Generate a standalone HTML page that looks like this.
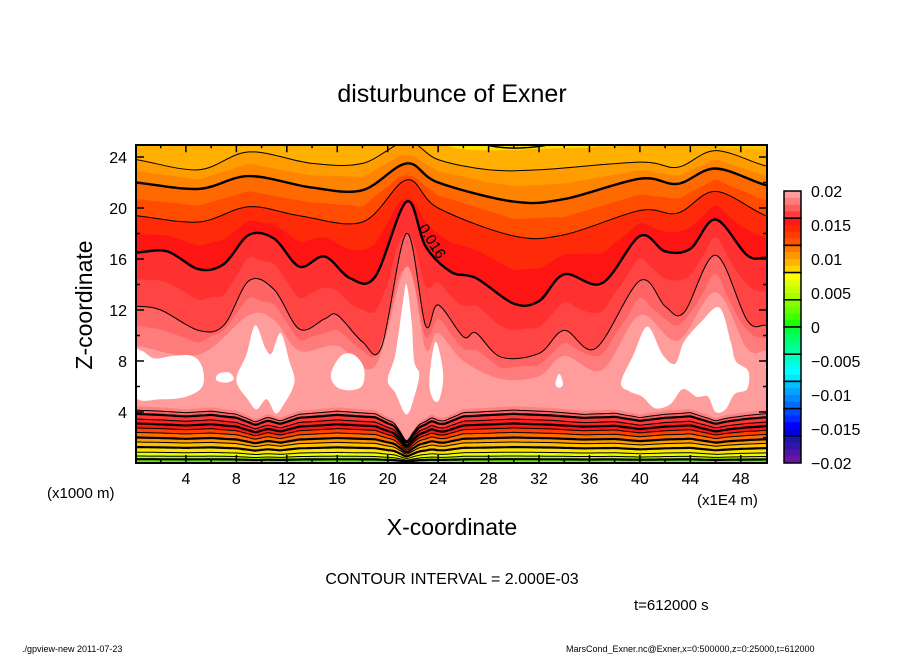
<!DOCTYPE html>
<html><head><meta charset="utf-8"><style>
body{margin:0;background:#fff;}
svg{display:block;font-family:"Liberation Sans",sans-serif;}
</style></head><body>
<svg id="chart" width="904" height="654" viewBox="0 0 904 654" xmlns="http://www.w3.org/2000/svg">
<defs><clipPath id="pc"><rect x="136" y="145" width="631" height="318"/></clipPath></defs>
<text x="452" y="102" text-anchor="middle" font-size="25" fill="#000">disturbunce of Exner</text>
<g id="plot" clip-path="url(#pc)"></g>
<g id="lines" clip-path="url(#pc)"></g>
<rect x="136" y="145" width="631" height="318" fill="none" stroke="#000" stroke-width="2"/>
<g id="axes"></g>
<text x="0" y="0" font-size="15" transform="translate(418,228) rotate(58)">0.016</text>
<g id="cbar"></g>
<text x="47" y="498" font-size="15">(x1000 m)</text>
<text x="697" y="505" font-size="15">(x1E4 m)</text>
<text x="452" y="535" text-anchor="middle" font-size="23">X-coordinate</text>
<text x="0" y="0" text-anchor="middle" font-size="23" transform="translate(92,305) rotate(-90)">Z-coordinate</text>
<text x="452" y="584" text-anchor="middle" font-size="16">CONTOUR INTERVAL = 2.000E-03</text>
<text x="634" y="610" font-size="15">t=612000 s</text>
<text x="22" y="652" font-size="9">./gpview-new  2011-07-23</text>
<text x="566" y="652" font-size="9">MarsCond_Exner.nc@Exner,x=0:500000,z=0:25000,t=612000</text>
</svg>
<script>
// contour curves (x in 1E4 m, z in 1000 m)
const lineA = [[0,23.8],[5,23.0],[9,24.4],[14,23.5],[18,23.5],[21.5,25.2],[24,23.8],[28,23.0],[32,23.0],[40,23.6],[43,23.2],[46,24.5],[50,23.3]];
const lineB = [[0,22],[5,21.5],[9,22.5],[14,21.6],[18,21.4],[21.5,23.5],[24,22],[30,20.5],[34,20.7],[40,22.3],[43,21.9],[46,23.1],[50,21.8]];
const lineC = [[0,19.4],[5,18.9],[9,20.1],[13,19.4],[18,18.9],[21.5,22.2],[24,20],[30,17.8],[34,17.9],[40,19.8],[43,19.6],[46,21.3],[50,19.4]];
const lineD = [[0,16.5],[2.5,16.6],[5,15.2],[7,15.6],[9,17.9],[11,17.6],[13,15.4],[15,16.2],[17,14.5],[19,14.6],[21.5,20.5],[23,17],[25,15],[27,14.5],[30,12.5],[32,12.7],[34,14.8],[37,14.1],[40,17.8],[42,16.6],[44,16.8],[46,19.1],[48.5,16.3],[50,16.1]];
const lineE = [[0,12.3],[2,12.0],[5,10.4],[7,10.8],[9,14.3],[11,13.6],[13,10.5],[15,11.3],[16,11.6],[18,9.5],[19.5,9.1],[21.5,18],[23,10.8],[24,12.4],[26,9.9],[27,10.2],[29,8.3],[32,8.6],[34,10.4],[36.5,9.0],[40,14.3],[42,12.3],[43.5,11.8],[46,16.3],[48.5,11.2],[50,10.8]];
const lightTop = [[0,9.2],[5,8.5],[9,11.6],[11,11.2],[13,8.8],[16,9.2],[19,7.6],[21.5,15.4],[23,9.0],[24,10.2],[26,8.0],[29,6.6],[32,6.8],[34,8.4],[37,7.3],[40,11.6],[43,9.6],[46,13.4],[48.5,9.0],[50,8.8]];
const blobs = [
 [[0,5.2],[2,5],[4,5.2],[5.3,6],[5.3,7.5],[4.5,8.4],[3,8.4],[1.5,8.2],[0.5,8.8],[0,8.6]],
 [[6.4,6.5],[7.2,6.3],[7.8,6.6],[7.4,7.1],[6.6,7.0]],
 [[8,6.5],[8.8,8.5],[9.5,10.8],[10.3,9],[10.8,8.6],[11.5,10.2],[12.2,8],[12.6,6.3],[11.7,4.5],[11.1,3.9],[10.4,5],[9.6,4.2],[8.9,5]],
 [[15.5,7],[16.3,8.4],[17.3,8.5],[18.1,7.5],[18,6.1],[17,5.7],[15.9,6]],
 [[20,6.5],[20.6,8.5],[21.2,12.5],[21.5,14],[21.9,11],[22.1,8],[22.5,7],[22.2,5.5],[21.5,3.8],[20.6,5.5]],
 [[23.3,6.5],[23.8,9.5],[24.4,7],[24.1,5],[23.6,5]],
 [[33.3,6.2],[33.6,7.0],[33.9,6.2],[33.6,5.9]],
 [[38.5,6.3],[39.5,8.5],[40.6,10.7],[41.8,8.5],[42.8,7.8],[43.5,9.5],[44.8,11],[46.3,12.2],[47.2,9.5],[47.6,8],[48.6,7.2],[48.5,5.8],[47.5,5.4],[46.8,4.2],[46.0,4.0],[45.4,5.2],[44.5,5.2],[43.4,5.8],[42.4,4.6],[41.2,4.3],[40.2,5.2],[39.2,5.6]]
];
// lower dense contours: base heights and relative dip profile
const lowLevels = [4.45, 4.15, 3.85, 3.45, 3.1, 2.75, 2.4, 2.0, 1.65, 1.25, 0.85, 0.55, 0.3];
const lowThick = [false,false,true,false,true,false,false,true,false,true,false,false,true];
const lowColors = ['#ff8080','#ff6060','#ff3838','#ff2020','#ff1818','#ff4000','#ff7000','#ff9a00','#ffc000','#ffe400','#e8ff00','#b0ff00','#60f000'];
const dipProfile = [[0,1],[2,0.98],[4,0.95],[6,0.98],[8,0.92],[9.5,0.78],[10.5,0.86],[11.5,0.8],[13,0.92],[16,0.98],[19,0.93],[20.5,0.75],[21.5,0.42],[22.5,0.72],[23.5,0.85],[24.3,0.78],[26,0.95],[30,1],[33,0.97],[35.5,0.92],[38,0.94],[40,0.86],[42,0.92],[44,0.95],[46,0.8],[47,0.85],[48.5,0.9],[50,0.93]];
const xTicks = [4,8,12,16,20,24,28,32,36,40,44,48];
const zTicks = [4,8,12,16,20,24];
const cbLabels = ['0.02','0.015','0.01','0.005','0','-0.005','-0.01','-0.015','-0.02'];
const cbColors = [
 ['#ff9c9c','#ff7c7c','#ff5c5c','#ff3c3c'],['#ff1818','#ff2800','#ff3c00','#ff5400'],
 ['#ff7800','#ff9800','#ffb400','#ffd400'],['#ffff00','#e0ff00','#c4ff00','#a4ff00'],
 ['#84ff00','#64ff00','#40ff00','#18ff00'],['#00ff40','#00ff60','#00ff80','#00ffa0'],
 ['#00ffc4','#00ffe4','#00ffff','#00eaff'],['#00c0ff','#00a4ff','#0088ff','#006cff'],
 ['#0048ff','#0028ff','#0000ff','#0000e0'],['#1818a8','#3414a8','#5014a8','#6c14a8']];

const NS='http://www.w3.org/2000/svg';
const X = x => 135.5 + x*12.61;
const Y = z => 463 - z*12.75;
function mk(tag, attrs, parent){const e=document.createElementNS(NS,tag);for(const k in attrs)e.setAttribute(k,attrs[k]);parent.appendChild(e);return e;}
function smooth(pts, closed){
  const p=pts.map(q=>[X(q[0]),Y(q[1])]);const n=p.length;let d='M'+p[0][0].toFixed(1)+','+p[0][1].toFixed(1);
  const g=i=>closed?p[(i+n)%n]:p[Math.max(0,Math.min(n-1,i))];
  const m=closed?n:n-1;
  for(let i=0;i<m;i++){const p0=g(i-1),p1=g(i),p2=g(i+1),p3=g(i+2);
    const c1=[p1[0]+(p2[0]-p0[0])/6,p1[1]+(p2[1]-p0[1])/6],c2=[p2[0]-(p3[0]-p1[0])/6,p2[1]-(p3[1]-p1[1])/6];
    d+='C'+c1[0].toFixed(1)+','+c1[1].toFixed(1)+' '+c2[0].toFixed(1)+','+c2[1].toFixed(1)+' '+p2[0].toFixed(1)+','+p2[1].toFixed(1);}
  return d+(closed?'Z':'');
}
function ext(pts){return [[-2,pts[0][1]],...pts,[52,pts[pts.length-1][1]]];}
function mid(a,b){
  const out=[];for(let x=0;x<=50;x+=1)out.push([x,(interp(a,x)+interp(b,x))/2]);return out;}
function interp(a,x){if(x<=a[0][0])return a[0][1];for(let i=1;i<a.length;i++)if(x<=a[i][0]){const t=(x-a[i-1][0])/(a[i][0]-a[i-1][0]);return a[i-1][1]+t*(a[i][1]-a[i-1][1]);}return a[a.length-1][1];}
const plot=document.getElementById('plot'), lines=document.getElementById('lines');
function fillBelow(pts,color,name){const e=mk('path',{d:smooth(ext(pts))+'L'+X(52)+','+Y(-1)+'L'+X(-2)+','+Y(-1)+'Z',fill:color},plot);
  
  }
function stroke(pts,w,name){const e=mk('path',{d:smooth(ext(pts)),fill:'none',stroke:'#000','stroke-width':w},lines);
  
  }
const bg=mk('rect',{x:136,y:145,width:631,height:318,fill:'#ffc400'},plot);


const topY=mk('ellipse',{cx:X(30),cy:Y(25.3),rx:90,ry:14,fill:'#ffe000'},plot);


const top2=[[0,24.8],[8,25.4],[16,24.8],[21.5,26],[26,24.6],[34,24.7],[42,24.9],[50,24.6]];
fillBelow(top2,'#ffb000','band-upper-1');
fillBelow(lineA,'#ff9c00','band-a');
fillBelow(mid(lineA,lineB),'#ff8400','band-a2');
fillBelow(lineB,'#ff6a00','band-b');
fillBelow(mid(lineB,lineC),'#ff4c00','band-b2');
fillBelow(lineC,'#ff2a08','band-c');
fillBelow(mid(lineC,lineD),'#ff1414','band-c2');
fillBelow(lineD,'#ff3030','band-d');
fillBelow(mid(lineD,lineE),'#ff4444','band-d2');
fillBelow(lineE,'#ff6464','band-e');
fillBelow(mid(lineE,lightTop),'#ff7c7c','band-e2');
fillBelow(lightTop,'#ff9c9c','band-light');
blobs.forEach((b,i)=>{const e=mk('path',{d:smooth(b,true),fill:'#fff'},plot);
  
  });
const lowCurves=lowLevels.map(h=>{const o=[];for(let x=0;x<=50;x+=0.5)o.push([x,h*interp(dipProfile,x)]);return o;});
lowCurves.forEach((c,i)=>fillBelow(c,lowColors[i],'band-low-'+i));
stroke(lineA,1,'contour-a');stroke(lineB,2.4,'contour-b');stroke(lineC,1,'contour-c');
stroke(lineD,2.4,'contour-0.016');stroke(lineE,1,'contour-e');
const topC=mk('path',{d:'M'+X(28)+','+Y(24.9)+'Q'+X(30)+','+Y(24.5)+' '+X(32.5)+','+Y(24.9),fill:'none',stroke:'#000','stroke-width':1.5},lines);


lowCurves.forEach((c,i)=>{if(i>0)stroke(c,lowThick[i]?2.2:1,'contour-low-'+i);});
const ax=document.getElementById('axes');
for(let v=2;v<50;v+=2){const maj=v%4===0,L=maj?8:4;
  [[Y(0),-1],[Y(25),1]].forEach(([y0,s])=>{const t=mk('line',{x1:X(v),x2:X(v),y1:y0,y2:y0+s*L,stroke:'#000','stroke-width':1.5},ax);
  
  });}
for(let v=2;v<25;v+=2){const maj=v%4===0,L=maj?8:4;
  [[136,1],[767,-1]].forEach(([x0,s])=>{const t=mk('line',{x1:x0,x2:x0+s*L,y1:Y(v),y2:Y(v),stroke:'#000','stroke-width':1.5},ax);
  
  });}
xTicks.forEach(v=>{const t=mk('text',{x:X(v),y:484,'text-anchor':'middle','font-size':16},ax);t.textContent=v;
  
  });
zTicks.forEach(v=>{const t=mk('text',{x:127,y:Y(v)+6,'text-anchor':'end','font-size':16},ax);t.textContent=v;
  
  });
const cb=document.getElementById('cbar');const cbTop=191,cbBot=463,bh=(cbBot-cbTop)/cbColors.length;
cbColors.forEach((box,i)=>{box.forEach((c,j)=>{const r=mk('rect',{x:784,y:cbTop+i*bh+j*bh/4,width:17,height:bh/4+0.3,fill:c},cb);
  
  });
  const f=mk('rect',{x:784,y:cbTop+i*bh,width:17,height:bh,fill:'none',stroke:'#000','stroke-width':1.5},cb);
  
  });
cbLabels.forEach((l,i)=>{const t=mk('text',{x:811,y:cbTop+i*(cbBot-cbTop)/(cbLabels.length-1)+6,'font-size':16},cb);t.textContent=l.replace('-','\u2212');
  
  });
</script>
</body></html>
